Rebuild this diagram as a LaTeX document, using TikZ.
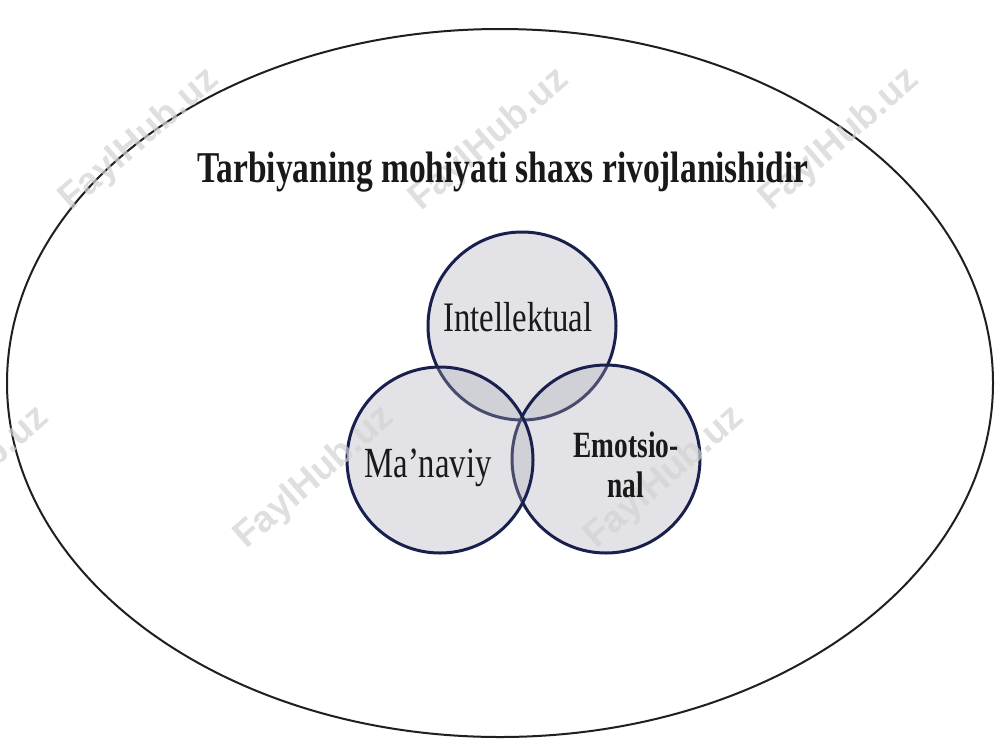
\documentclass[tikz,border=0pt]{standalone}
\usepackage{fontspec}
\usepackage{graphicx}
\setmainfont{Liberation Serif}
\newfontfamily\wmfont{Liberation Sans}
\usetikzlibrary{shapes.geometric}
\definecolor{navy}{RGB}{26,32,78}
\definecolor{vfill}{RGB}{170,170,182}
\definecolor{wmgray}{RGB}{210,210,210}
\tikzset{
  outerbox/.style={draw=black!88, line width=2pt, ellipse, inner sep=0pt, minimum width=986pt, minimum height=708pt},
  vcirc/.style={circle, draw=navy, line width=3pt, fill=vfill, fill opacity=0.32, draw opacity=1, inner sep=0pt, minimum size=#1},
  lbl/.style={inner sep=0pt, align=center, text=black!90},
  wmark/.style={inner sep=0pt, text=wmgray, rotate=41, font=\wmfont\bfseries\fontsize{37}{40}\selectfont, opacity=0.7}
}
\begin{document}
\begin{tikzpicture}[x=1pt,y=-1pt]
\useasboundingbox (0,0) rectangle (1000,750);
\fill[white] (0,0) rectangle (1000,750);
\node[outerbox] (outer) at (500,383) {};
\node[vcirc=188pt] (ci) at (522,326) {};
\node[vcirc=188pt] (ce) at (606,459) {};
\node[vcirc=186pt] (cm) at (440,460) {};
\node[wmark] (w1) at (140,140) {FaylHub.uz};
\node[wmark] (w2) at (490,140) {FaylHub.uz};
\node[wmark] (w3) at (840,140) {FaylHub.uz};
\node[wmark] (w4) at (-30,478) {FaylHub.uz};
\node[wmark] (w5) at (315,478) {FaylHub.uz};
\node[wmark] (w6) at (665,478) {FaylHub.uz};
\node[lbl, font=\bfseries\fontsize{44}{48}\selectfont] (title) at (503,172) {\scalebox{0.76}[1]{Tarbiyaning mohiyati shaxs rivojlanishidir}};
\node[lbl, font=\fontsize{42}{46}\selectfont] (ti) at (518,317) {\scalebox{0.78}[1]{Intellektual}};
\node[lbl, font=\fontsize{43}{46}\selectfont] (tm) at (428,468) {\scalebox{0.76}[1]{Ma’naviy}};
\node[lbl, font=\bfseries\fontsize{37}{40}\selectfont] (te) at (626,465) {\scalebox{0.74}[1]{Emotsio-}\\\scalebox{0.74}[1]{nal}};
\end{tikzpicture}
\end{document}
